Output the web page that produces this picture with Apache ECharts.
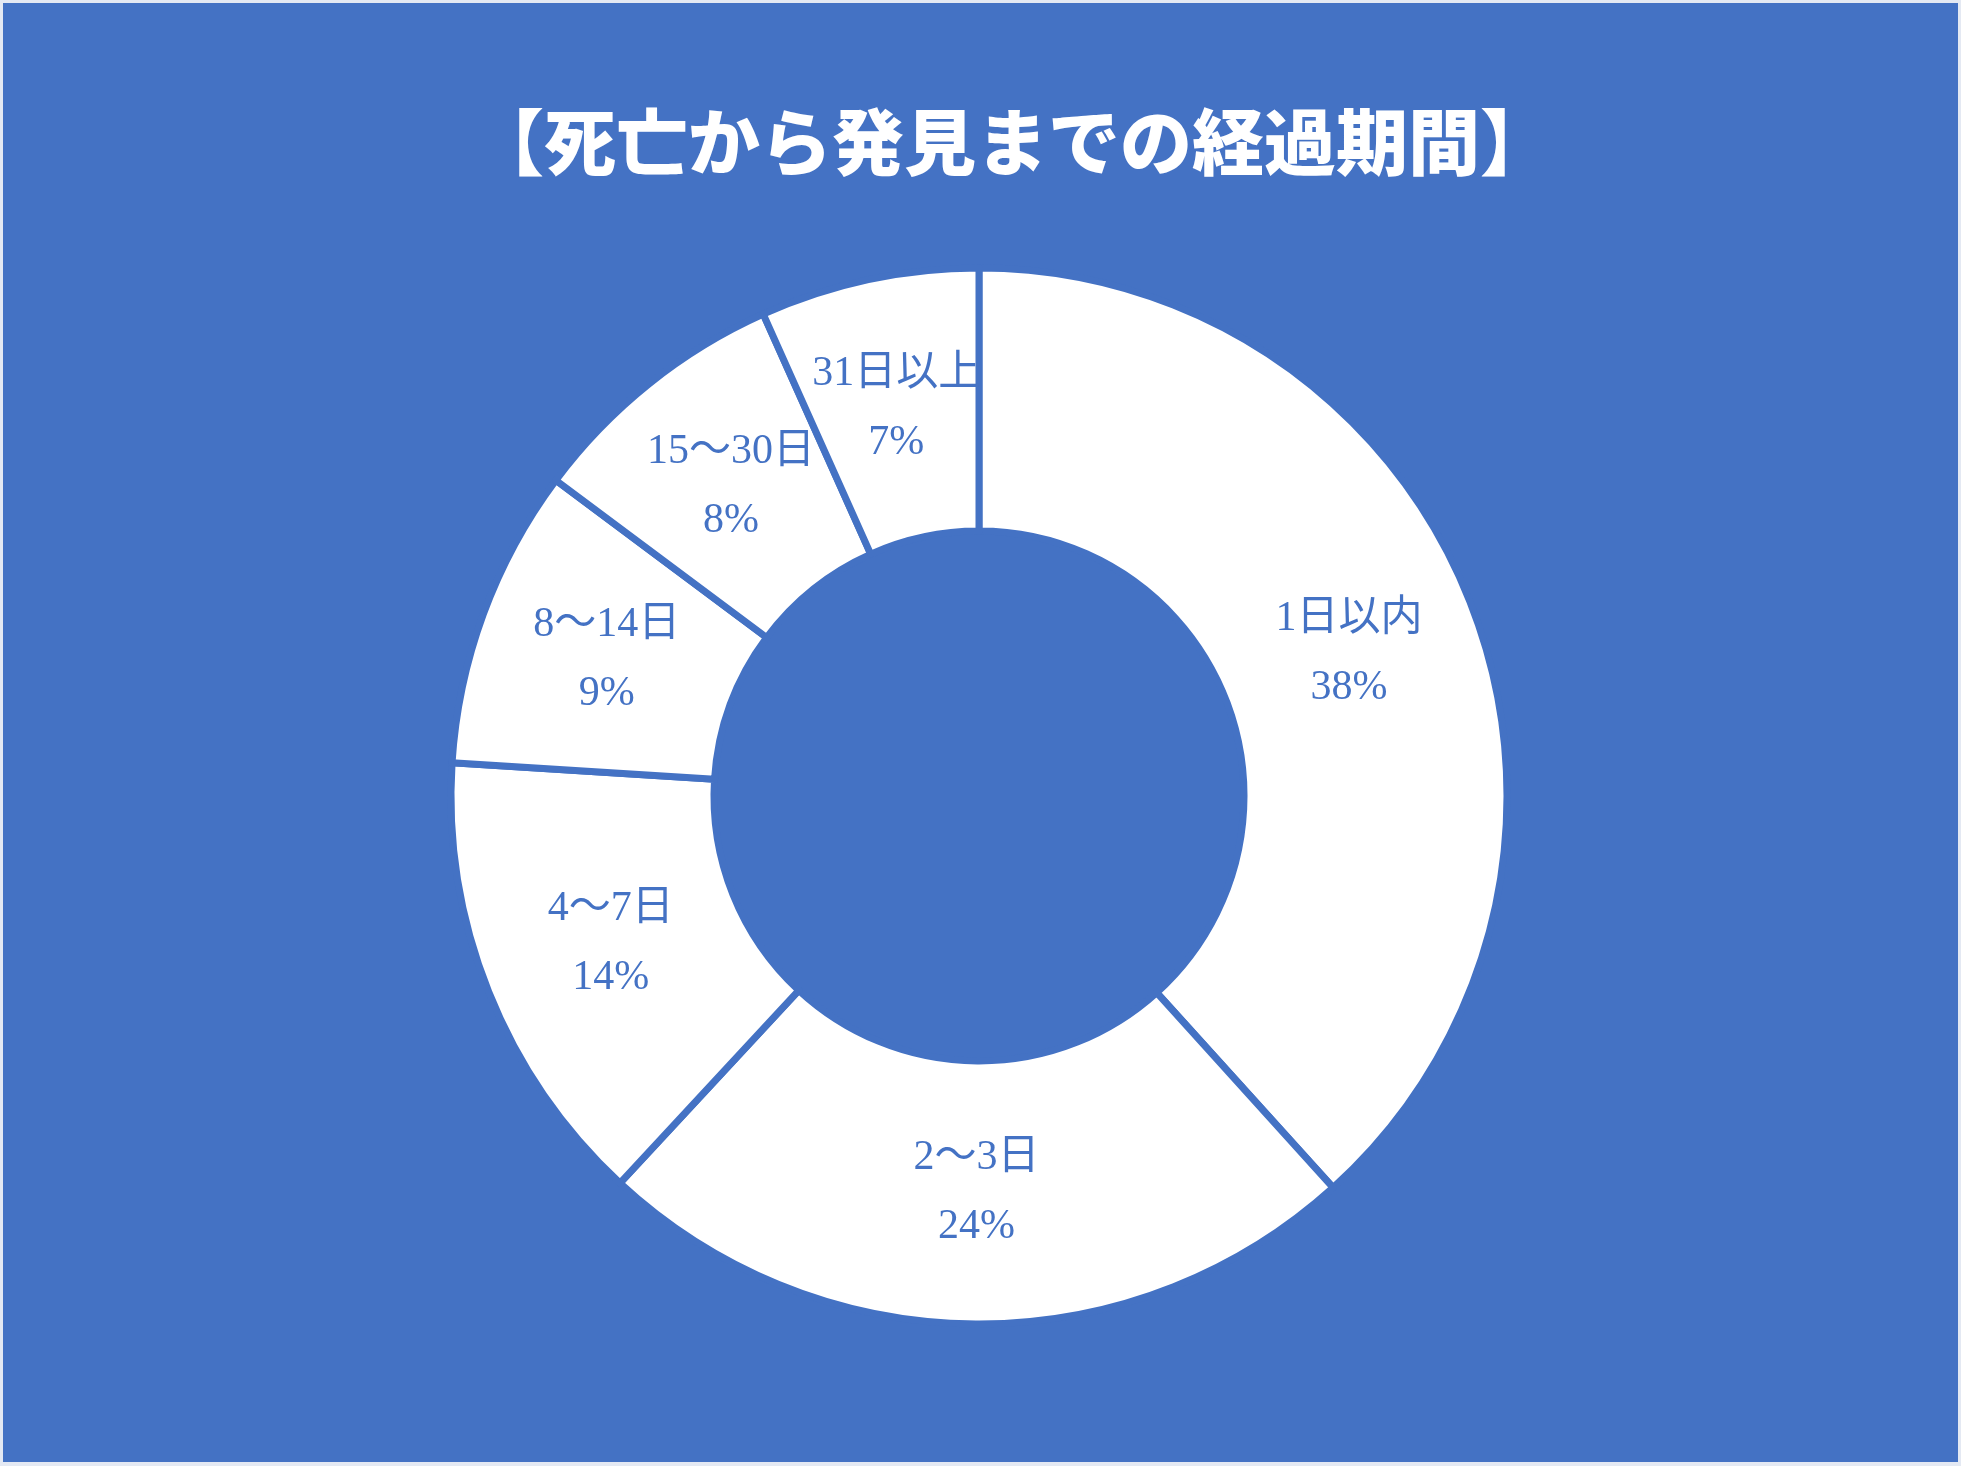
<!DOCTYPE html>
<html>
<head>
<meta charset="utf-8">
<script src="https://cdn.jsdelivr.net/npm/echarts@6/dist/echarts.min.js"></script>
<style>
  html, body { margin: 0; padding: 0; background: #e4e9f3; }
  #chart { position: absolute; left: 3px; top: 3px; width: 1955px; height: 1459px; }
</style>
</head>
<body>
<div id="chart"></div>
<script>
const title = '【死亡から発見までの経過期間】';
const categories = ['1日以内', '2～3日', '4～7日', '8～14日', '15～30日', '31日以上'];
const values = [38.3, 23.6, 14.1, 9.2, 8.1, 6.7];

const blue = '#4472C4';
const innerR = 265, outerR = 528;
const midR = (innerR + outerR) / 2;
const pieData = categories.map((c, i) => ({ name: c, value: values[i] }));

const chart = echarts.init(document.getElementById('chart'));
chart.setOption({
  backgroundColor: blue,
  animation: false,
  title: {
    text: title,
    left: 1004,
    top: 98,
    textAlign: 'center',
    textStyle: {
      color: '#ffffff',
      fontSize: 72,
      fontWeight: 900,
      fontFamily: "'Noto Sans CJK JP', sans-serif"
    }
  },
  series: [{
    type: 'pie',
    center: [976, 793],
    radius: [innerR, outerR],
    startAngle: 90,
    clockwise: true,
    silent: true,
    itemStyle: { color: '#ffffff', borderColor: blue, borderWidth: 7 },
    label: { show: false },
    labelLine: { show: false },
    data: pieData
  }, {
    // label carrier: same data, transparent sectors, labels at the ring's mid radius
    type: 'pie',
    center: [976, 793],
    radius: [0, midR],
    startAngle: 90,
    clockwise: true,
    silent: true,
    avoidLabelOverlap: false,
    itemStyle: { color: 'rgba(0,0,0,0)', borderWidth: 0 },
    label: {
      show: true,
      position: 'outside',
      distanceToLabelLine: 0,
      formatter: p => p.name + '\n' + Math.round(p.percent) + '%',
      color: blue,
      fontSize: 42,
      lineHeight: 69,
      fontFamily: "'Liberation Serif', 'Noto Sans CJK JP', serif"
    },
    labelLine: { show: false, length: 0, length2: 0 },
    labelLayout: () => ({ align: 'center', verticalAlign: 'middle' }),
    data: pieData
  }]
});
</script>
</body>
</html>
